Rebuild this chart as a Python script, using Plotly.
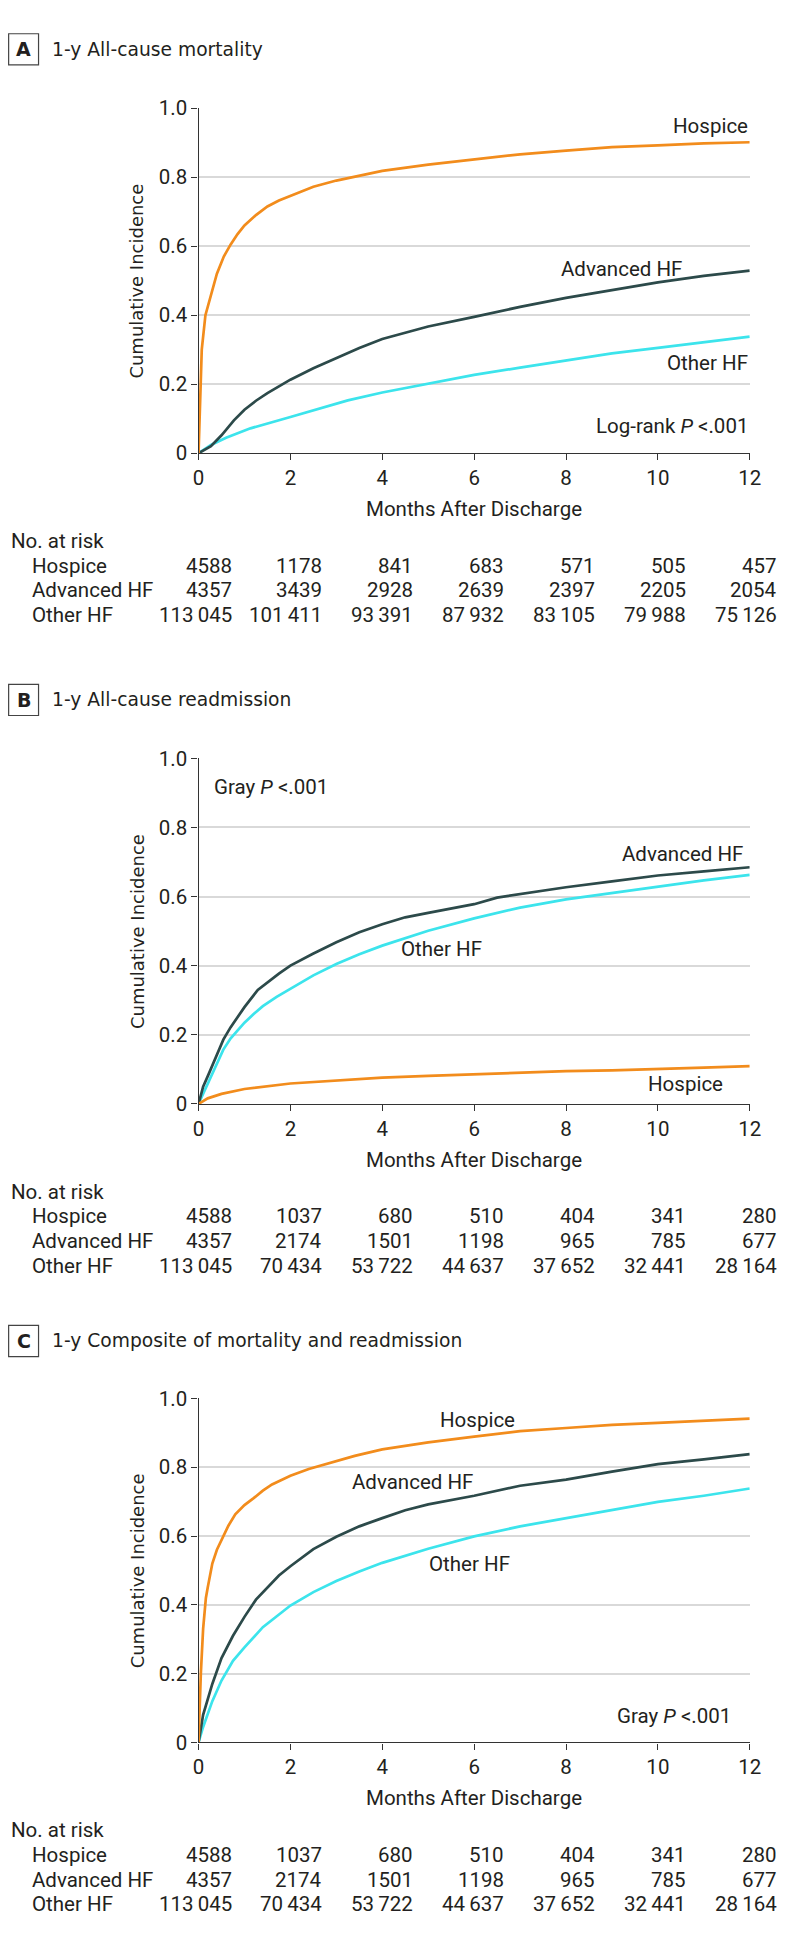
import plotly.graph_objects as go

W, H = 794, 1948

# ---------------- data ----------------
x_ticks = [0, 2, 4, 6, 8, 10, 12]
groups = ["Hospice", "Advanced HF", "Other HF"]

# Panel A: 1-y all-cause mortality
a_hosp_t = [0, 0.03, 0.07, 0.15, 0.25, 0.4, 0.55, 0.7, 0.85, 1.0, 1.25, 1.5, 1.75, 2, 2.5, 3, 3.5, 4, 5, 6, 7, 8, 9, 10, 11, 12]
a_hosp_y = [0, 0.15, 0.30, 0.40, 0.45, 0.52, 0.57, 0.605, 0.635, 0.66, 0.69, 0.715, 0.732, 0.745, 0.772, 0.79, 0.803, 0.818, 0.836, 0.852, 0.866, 0.877, 0.887, 0.892, 0.898, 0.901]
a_adv_t = [0, 0.27, 0.5, 0.77, 1.0, 1.25, 1.5, 1.77, 2, 2.5, 3, 3.5, 4, 4.5, 5, 6, 7, 8, 9, 10, 11, 12]
a_adv_y = [0, 0.02, 0.052, 0.095, 0.126, 0.152, 0.174, 0.196, 0.213, 0.246, 0.276, 0.305, 0.331, 0.348, 0.367, 0.395, 0.424, 0.45, 0.473, 0.495, 0.514, 0.529]
a_oth_t = [0, 0.27, 0.6, 1.13, 2, 3.25, 4, 5, 6, 7, 8, 9, 10, 11, 12]
a_oth_y = [0, 0.024, 0.045, 0.072, 0.105, 0.153, 0.176, 0.202, 0.227, 0.248, 0.269, 0.289, 0.305, 0.322, 0.338]

# Panel B: 1-y all-cause readmission
b_hosp_t = [0, 0.2, 0.5, 1, 2, 3, 4, 5, 6, 7, 8, 9, 10, 11, 12]
b_hosp_y = [0, 0.016, 0.029, 0.043, 0.059, 0.067, 0.076, 0.081, 0.086, 0.091, 0.095, 0.097, 0.100, 0.105, 0.109]
b_adv_t = [0, 0.1, 0.22, 0.4, 0.54, 0.7, 0.86, 1.0, 1.29, 1.5, 1.75, 2, 2.48, 3, 3.5, 4, 4.5, 5, 5.5, 6, 6.5, 7, 8, 9, 10, 11, 12]
b_adv_y = [0, 0.05, 0.086, 0.145, 0.186, 0.222, 0.253, 0.28, 0.33, 0.352, 0.377, 0.40, 0.434, 0.468, 0.497, 0.52, 0.54, 0.553, 0.565, 0.578, 0.597, 0.607, 0.627, 0.644, 0.661, 0.673, 0.685]
b_oth_t = [0, 0.1, 0.22, 0.4, 0.54, 0.7, 0.86, 1.0, 1.2, 1.4, 1.7, 2, 2.5, 3, 3.5, 4, 5, 6, 7, 8, 9, 10, 11, 12]
b_oth_y = [0, 0.03, 0.062, 0.118, 0.157, 0.19, 0.215, 0.235, 0.26, 0.283, 0.31, 0.334, 0.372, 0.405, 0.433, 0.458, 0.501, 0.537, 0.568, 0.592, 0.611, 0.63, 0.647, 0.663]

# Panel C: 1-y composite of mortality and readmission
c_hosp_t = [0, 0.05, 0.1, 0.16, 0.2, 0.3, 0.4, 0.5, 0.65, 0.8, 1.0, 1.2, 1.4, 1.6, 2.0, 2.4, 2.8, 3.4, 4, 5, 6, 7, 8, 9, 10, 11, 12]
c_hosp_y = [0, 0.2, 0.33, 0.42, 0.45, 0.52, 0.56, 0.59, 0.63, 0.663, 0.69, 0.71, 0.732, 0.75, 0.775, 0.795, 0.811, 0.833, 0.852, 0.872, 0.889, 0.905, 0.914, 0.923, 0.929, 0.935, 0.941]
c_adv_t = [0, 0.1, 0.3, 0.5, 0.75, 1.0, 1.25, 1.5, 1.75, 2.0, 2.5, 3.0, 3.5, 4.0, 4.5, 5, 6, 7, 8, 9, 10, 11, 12]
c_adv_y = [0, 0.08, 0.17, 0.245, 0.31, 0.365, 0.415, 0.45, 0.485, 0.512, 0.562, 0.598, 0.628, 0.652, 0.675, 0.692, 0.717, 0.746, 0.764, 0.787, 0.809, 0.823, 0.838]
c_oth_t = [0, 0.1, 0.3, 0.5, 0.75, 1.0, 1.4, 2.0, 2.5, 3.0, 3.5, 4, 5, 6, 7, 8, 9, 10, 11, 12]
c_oth_y = [0, 0.045, 0.12, 0.18, 0.237, 0.276, 0.335, 0.398, 0.437, 0.469, 0.497, 0.522, 0.563, 0.599, 0.628, 0.652, 0.675, 0.699, 0.717, 0.738]

# Numbers at risk
risk_a_hosp = [4588, 1178, 841, 683, 571, 505, 457]
risk_a_adv = [4357, 3439, 2928, 2639, 2397, 2205, 2054]
risk_a_oth = [113045, 101411, 93391, 87932, 83105, 79988, 75126]
risk_b_hosp = [4588, 1037, 680, 510, 404, 341, 280]
risk_b_adv = [4357, 2174, 1501, 1198, 965, 785, 677]
risk_b_oth = [113045, 70434, 53722, 44637, 37652, 32441, 28164]
risk_c_hosp = [4588, 1037, 680, 510, 404, 341, 280]
risk_c_adv = [4357, 2174, 1501, 1198, 965, 785, 677]
risk_c_oth = [113045, 70434, 53722, 44637, 37652, 32441, 28164]

# ---------------- styling ----------------
COL = {"Hospice": "#F28C1C", "Advanced HF": "#2C4A4A", "Other HF": "#3CE4EC"}
TXT = "#231F20"
FONT = "Roboto, Liberation Sans, Arial, sans-serif"
TFONT = "DejaVu Sans, Verdana, sans-serif"
FS = 20.5

X0, X1 = 197, 761  # plot area left/right, page px


def px(x):
    return x / W


def py(y):
    return 1 - y / H


def fmt(n):
    if n >= 10000:
        return f"{n:,}".replace(",", "\u2009")
    return str(n)


panels = [
    dict(letter="A", title="1-y All-cause mortality", top=97.3, bot=446.7, ty=37.8,
         curves=[(a_hosp_t, a_hosp_y, "Hospice"), (a_adv_t, a_adv_y, "Advanced HF"), (a_oth_t, a_oth_y, "Other HF")],
         risk=[risk_a_hosp, risk_a_adv, risk_a_oth],
         labels=[("Hospice", 12, 0.949, "right"), ("Advanced HF", 9.2, 0.534, "center"),
                 ("Other HF", 12, 0.26, "right")],
         ptext=("Log-rank ", 12, 0.079, "right")),
    dict(letter="B", title="1-y All-cause readmission", top=755.7, bot=1105.5, ty=696.5,
         curves=[(b_hosp_t, b_hosp_y, "Hospice"), (b_adv_t, b_adv_y, "Advanced HF"), (b_oth_t, b_oth_y, "Other HF")],
         risk=[risk_b_hosp, risk_b_adv, risk_b_oth],
         labels=[("Advanced HF", 11.9, 0.723, "right"), ("Other HF", 5.28, 0.447, "center"),
                 ("Hospice", 10.6, 0.058, "center")],
         ptext=("Gray ", 0.29, 0.916, "left")),
    dict(letter="C", title="1-y Composite of mortality and readmission", top=1403.7, bot=1752, ty=1345.5,
         curves=[(c_hosp_t, c_hosp_y, "Hospice"), (c_adv_t, c_adv_y, "Advanced HF"), (c_oth_t, c_oth_y, "Other HF")],
         risk=[risk_c_hosp, risk_c_adv, risk_c_oth],
         labels=[("Hospice", 6.07, 0.937, "center"), ("Advanced HF", 4.66, 0.758, "center"),
                 ("Other HF", 5.9, 0.519, "center")],
         ptext=("Gray ", 11.64, 0.076, "right")),
]

fig = go.Figure()
annotations = []
shapes = []

for i, p in enumerate(panels):
    n = "" if i == 0 else str(i + 1)
    xa, ya = "x" + n, "y" + n
    fig.update_layout(**{
        "xaxis" + n: dict(domain=[px(X0), px(X1)], anchor=ya, range=[0, 12],
                          tickvals=x_ticks, ticks="outside", ticklen=6, tickwidth=1.3,
                          tickcolor="#333", showline=True, linecolor="#333", linewidth=1.3,
                          showgrid=False, zeroline=False,
                          tickfont=dict(family=FONT, size=FS, color=TXT)),
        "yaxis" + n: dict(domain=[py(p["bot"]), py(p["top"])], anchor=xa, range=[0, 1],
                          tickvals=[0, 0.2, 0.4, 0.6, 0.8, 1.0],
                          ticktext=["0", "0.2", "0.4", "0.6", "0.8", "1.0"],
                          ticks="outside", ticklen=6, tickwidth=1.3, tickcolor="#333",
                          showline=True, linecolor="#333", linewidth=1.3,
                          showgrid=True, gridcolor="#D9D9D9", gridwidth=1.5, zeroline=False,
                          tickfont=dict(family=FONT, size=FS, color=TXT)),
    })
    for t, y, g in p["curves"][::-1]:
        fig.add_trace(go.Scatter(x=t, y=y, mode="lines", xaxis=xa, yaxis=ya,
                                 line=dict(color=COL[g], width=2.7), showlegend=False,
                                 hoverinfo="skip"))
    for txt, xv, yv, anc in p["labels"]:
        annotations.append(dict(text=txt, x=xv, y=yv, xref=xa, yref=ya, xanchor=anc,
                                yanchor="middle", showarrow=False,
                                font=dict(family=FONT, size=FS, color=TXT)))
    pre, xv, yv, anc = p["ptext"]
    annotations.append(dict(text=pre + "<i>P</i> <.001", x=xv, y=yv, xref=xa, yref=ya, xanchor=anc,
                            yanchor="middle", showarrow=False,
                            font=dict(family=FONT, size=FS, color=TXT)))
    shapes.append(dict(type="rect", xref="paper", yref="paper",
                       x0=px(2.7), x1=px(33.3), y0=py(p["ty"] + 15.8), y1=py(p["ty"] - 15.8),
                       line=dict(color="#444", width=1.2), fillcolor="rgba(0,0,0,0)"))
    annotations.append(dict(text="<b>" + p["letter"] + "</b>", x=px(18), y=py(p["ty"]),
                            xref="paper", yref="paper", xanchor="center", yanchor="middle",
                            showarrow=False, font=dict(family=TFONT, size=19, color=TXT)))
    annotations.append(dict(text=p["title"], x=px(45), y=py(p["ty"]),
                            xref="paper", yref="paper", xanchor="left", yanchor="middle",
                            showarrow=False, font=dict(family=TFONT, size=18.7, color=TXT)))
    annotations.append(dict(text="Cumulative Incidence", x=px(134), y=py((p["top"] + p["bot"]) / 2),
                            xref="paper", yref="paper", xanchor="center", yanchor="middle",
                            textangle=-90, showarrow=False,
                            font=dict(family=TFONT, size=18, color=TXT)))
    annotations.append(dict(text="Months After Discharge", x=px((X0 + X1) / 2), y=py(p["bot"] + 56.6),
                            xref="paper", yref="paper", xanchor="center", yanchor="middle",
                            showarrow=False, font=dict(family=FONT, size=FS, color=TXT)))
    base = p["bot"] + 89
    annotations.append(dict(text="No. at risk", x=px(3), y=py(base), xref="paper", yref="paper",
                            xanchor="left", yanchor="middle", showarrow=False,
                            font=dict(family=FONT, size=FS, color=TXT)))
    for r, (g, vals) in enumerate(zip(groups, p["risk"])):
        yy = py(base + 25 * (r + 1))
        annotations.append(dict(text=g, x=px(24.3), y=yy, xref="paper", yref="paper",
                                xanchor="left", yanchor="middle", showarrow=False,
                                font=dict(family=FONT, size=FS, color=TXT)))
        for k, (m, v) in enumerate(zip(x_ticks, vals)):
            annotations.append(dict(text=fmt(v), x=m, y=yy, xref=xa, yref="paper",
                                    xanchor="right", yanchor="middle", xshift=35 - 1.0 * k,
                                    showarrow=False,
                                    font=dict(family=FONT, size=FS, color=TXT)))

# Size comes from the graph div, which is pinned to the page's top-left corner so the
# default body margin cannot push it off the 794x1948 window.
fig.update_layout(autosize=True, margin=dict(l=0, r=0, t=0, b=0, pad=0),
                  paper_bgcolor="white", plot_bgcolor="white",
                  annotations=annotations, shapes=shapes, showlegend=False)

fig.write_html("out.html", config={"displayModeBar": False, "responsive": False},
               default_width=f"{W}px;position:absolute;left:0;top:0",
               default_height=f"{H}px")
